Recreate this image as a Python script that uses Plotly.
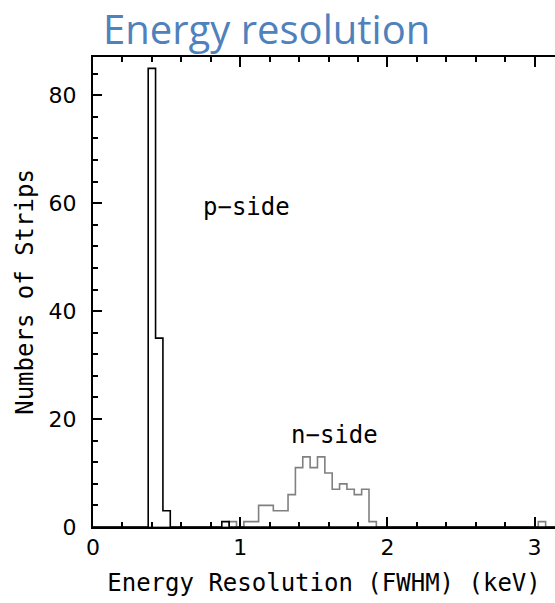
import plotly.graph_objects as go

# ---- data ----
bin_width = 0.05
p_centers = [0.40, 0.45, 0.50, 0.90]
p_counts = [85, 35, 3, 1]

n_centers = [0.95, 1.05, 1.10, 1.15, 1.20, 1.25, 1.30, 1.35, 1.40, 1.45, 1.50,
             1.55, 1.60, 1.65, 1.70, 1.75, 1.80, 1.85, 1.90, 3.05]
n_counts = [1, 1, 1, 4, 4, 3, 3, 6, 11, 13, 11,
            13, 10, 7, 8, 7, 6, 7, 1, 1]

x_ticks = [0, 1, 2, 3]
y_ticks = [0, 20, 40, 60, 80]


def step_outline(centers, counts, lo=0.0, hi=3.2):
    lut = {round(c, 3): v for c, v in zip(centers, counts)}
    n = int(round((hi - lo) / bin_width))
    xs, ys = [], []
    for k in range(n + 1):
        c = round(lo + k * bin_width, 3)
        xs.append(c - bin_width / 2)
        ys.append(lut.get(c, 0))
    xs.append(xs[-1] + bin_width)
    ys.append(ys[-1])
    return xs, ys


nx, ny = step_outline(n_centers, n_counts)
px, py = step_outline(p_centers, p_counts)

fig = go.Figure()
fig.add_trace(go.Scatter(x=nx, y=ny, mode="lines", line=dict(shape="hv", color="#808080", width=1.6),
                         showlegend=False, hoverinfo="skip"))
fig.add_trace(go.Scatter(x=px, y=py, mode="lines", line=dict(shape="hv", color="black", width=1.6),
                         showlegend=False, hoverinfo="skip"))

tick_font = dict(family="DejaVu Sans", size=22, color="black")
label_font = dict(family="DejaVu Sans Mono", size=24, color="black")

fig.update_layout(
    width=555, height=603,
    margin=dict(l=93, r=0, t=57, b=76),
    paper_bgcolor="white", plot_bgcolor="white",
    title=dict(text="Energy resolution", x=103 / 555, xanchor="left", xref="container",
               y=1 - 30 / 603, yanchor="middle", yref="container",
               font=dict(family="Open Sans", size=40, color="#4F81BD")),
    annotations=[
        dict(text="p\u2212side", x=1.045, y=59.3, xref="x", yref="y", showarrow=False,
             font=label_font),
        dict(text="n\u2212side", x=1.64, y=17.0, xref="x", yref="y", showarrow=False,
             font=label_font),
    ],
)

fig.update_xaxes(
    range=[0, 462 / 147.2], tickmode="array", tickvals=x_ticks, ticktext=[str(v) for v in x_ticks],
    ticks="inside", ticklen=10, tickwidth=2, tickcolor="black",
    minor=dict(dtick=0.2, tick0=0, ticks="inside", ticklen=5, tickwidth=1.5, tickcolor="black"),
    showline=True, linewidth=2, linecolor="black", mirror="ticks",
    showgrid=False, zeroline=False, tickfont=tick_font,
    title=dict(text="Energy Resolution (FWHM) (keV)", font=label_font, standoff=15),
)
fig.update_yaxes(
    range=[0, 87.1], tickmode="array", tickvals=y_ticks, ticktext=[str(v) for v in y_ticks],
    ticks="inside", ticklen=9, tickwidth=2, tickcolor="black",
    minor=dict(dtick=4, tick0=0, ticks="inside", ticklen=5, tickwidth=1.5, tickcolor="black"),
    showline=True, linewidth=2, linecolor="black", mirror=False,
    showgrid=False, zeroline=False, tickfont=tick_font, ticklabelstandoff=10,
    title=dict(text="Numbers of Strips", font=label_font, standoff=8),
)

fig.write_html("out.html")
